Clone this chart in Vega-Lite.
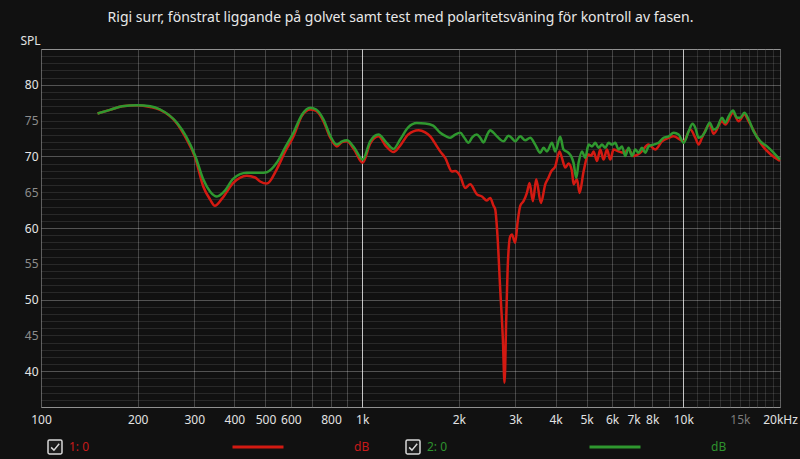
{
  "$schema": "https://vega.github.io/schema/vega-lite/v6.json",
  "width": 739,
  "height": 358,
  "autosize": {"type": "none"},
  "padding": {"left": 41, "top": 49, "right": 20, "bottom": 52},
  "background": "#111111",
  "title": {
    "text": "Rigi surr, fönstrat liggande på golvet samt test med polaritetsväning för kontroll av fasen.",
    "color": "#e8e8e8",
    "fontSize": 14,
    "fontWeight": "normal",
    "font": "Noto Sans",
    "anchor": "middle",
    "dx": -10,
    "offset": 9
  },
  "data": {
    "values": [
      {"f": 150, "db": 76.0, "s": "1: 0"},
      {"f": 164, "db": 76.5, "s": "1: 0"},
      {"f": 179, "db": 77.0, "s": "1: 0"},
      {"f": 199, "db": 77.15, "s": "1: 0"},
      {"f": 219, "db": 76.9, "s": "1: 0"},
      {"f": 235, "db": 76.5, "s": "1: 0"},
      {"f": 265, "db": 74.6, "s": "1: 0"},
      {"f": 283, "db": 72.5, "s": "1: 0"},
      {"f": 302, "db": 69.85, "s": "1: 0"},
      {"f": 320, "db": 65.8, "s": "1: 0"},
      {"f": 336, "db": 64.0, "s": "1: 0"},
      {"f": 348, "db": 63.1, "s": "1: 0"},
      {"f": 366, "db": 64.1, "s": "1: 0"},
      {"f": 397, "db": 66.3, "s": "1: 0"},
      {"f": 437, "db": 67.3, "s": "1: 0"},
      {"f": 464, "db": 67.05, "s": "1: 0"},
      {"f": 481, "db": 66.5, "s": "1: 0"},
      {"f": 505, "db": 66.2, "s": "1: 0"},
      {"f": 542, "db": 68.2, "s": "1: 0"},
      {"f": 576, "db": 70.7, "s": "1: 0"},
      {"f": 611, "db": 72.8, "s": "1: 0"},
      {"f": 650, "db": 75.7, "s": "1: 0"},
      {"f": 689, "db": 76.55, "s": "1: 0"},
      {"f": 719, "db": 76.35, "s": "1: 0"},
      {"f": 758, "db": 74.9, "s": "1: 0"},
      {"f": 795, "db": 72.65, "s": "1: 0"},
      {"f": 834, "db": 71.4, "s": "1: 0"},
      {"f": 866, "db": 72.0, "s": "1: 0"},
      {"f": 896, "db": 72.1, "s": "1: 0"},
      {"f": 944, "db": 70.95, "s": "1: 0"},
      {"f": 1004, "db": 69.1, "s": "1: 0"},
      {"f": 1059, "db": 71.8, "s": "1: 0"},
      {"f": 1124, "db": 72.8, "s": "1: 0"},
      {"f": 1188, "db": 71.4, "s": "1: 0"},
      {"f": 1252, "db": 70.6, "s": "1: 0"},
      {"f": 1313, "db": 71.5, "s": "1: 0"},
      {"f": 1391, "db": 73.05, "s": "1: 0"},
      {"f": 1498, "db": 73.65, "s": "1: 0"},
      {"f": 1571, "db": 73.35, "s": "1: 0"},
      {"f": 1629, "db": 72.8, "s": "1: 0"},
      {"f": 1709, "db": 71.4, "s": "1: 0"},
      {"f": 1750, "db": 70.7, "s": "1: 0"},
      {"f": 1814, "db": 69.8, "s": "1: 0"},
      {"f": 1903, "db": 67.9, "s": "1: 0"},
      {"f": 1948, "db": 67.95, "s": "1: 0"},
      {"f": 2020, "db": 67.25, "s": "1: 0"},
      {"f": 2093, "db": 65.6, "s": "1: 0"},
      {"f": 2170, "db": 66.1, "s": "1: 0"},
      {"f": 2276, "db": 64.7, "s": "1: 0"},
      {"f": 2360, "db": 64.4, "s": "1: 0"},
      {"f": 2446, "db": 63.85, "s": "1: 0"},
      {"f": 2504, "db": 64.2, "s": "1: 0"},
      {"f": 2564, "db": 63.1, "s": "1: 0"},
      {"f": 2596, "db": 62.6, "s": "1: 0"},
      {"f": 2639, "db": 58.85, "s": "1: 0"},
      {"f": 2691, "db": 51.4, "s": "1: 0"},
      {"f": 2743, "db": 44.4, "s": "1: 0"},
      {"f": 2775, "db": 38.4, "s": "1: 0"},
      {"f": 2809, "db": 47.2, "s": "1: 0"},
      {"f": 2843, "db": 55.15, "s": "1: 0"},
      {"f": 2891, "db": 58.85, "s": "1: 0"},
      {"f": 2926, "db": 59.1, "s": "1: 0"},
      {"f": 2996, "db": 57.95, "s": "1: 0"},
      {"f": 3046, "db": 60.7, "s": "1: 0"},
      {"f": 3106, "db": 63.1, "s": "1: 0"},
      {"f": 3180, "db": 63.75, "s": "1: 0"},
      {"f": 3258, "db": 64.9, "s": "1: 0"},
      {"f": 3320, "db": 66.3, "s": "1: 0"},
      {"f": 3402, "db": 63.75, "s": "1: 0"},
      {"f": 3483, "db": 66.8, "s": "1: 0"},
      {"f": 3603, "db": 63.5, "s": "1: 0"},
      {"f": 3716, "db": 66.1, "s": "1: 0"},
      {"f": 3805, "db": 67.05, "s": "1: 0"},
      {"f": 3879, "db": 67.9, "s": "1: 0"},
      {"f": 3992, "db": 68.6, "s": "1: 0"},
      {"f": 4117, "db": 70.7, "s": "1: 0"},
      {"f": 4188, "db": 69.8, "s": "1: 0"},
      {"f": 4289, "db": 68.45, "s": "1: 0"},
      {"f": 4391, "db": 69.0, "s": "1: 0"},
      {"f": 4500, "db": 67.95, "s": "1: 0"},
      {"f": 4552, "db": 66.1, "s": "1: 0"},
      {"f": 4665, "db": 66.8, "s": "1: 0"},
      {"f": 4753, "db": 64.9, "s": "1: 0"},
      {"f": 4891, "db": 67.9, "s": "1: 0"},
      {"f": 5070, "db": 70.25, "s": "1: 0"},
      {"f": 5169, "db": 70.1, "s": "1: 0"},
      {"f": 5255, "db": 70.7, "s": "1: 0"},
      {"f": 5384, "db": 69.35, "s": "1: 0"},
      {"f": 5513, "db": 70.95, "s": "1: 0"},
      {"f": 5645, "db": 69.55, "s": "1: 0"},
      {"f": 5784, "db": 70.95, "s": "1: 0"},
      {"f": 5923, "db": 69.55, "s": "1: 0"},
      {"f": 6065, "db": 70.95, "s": "1: 0"},
      {"f": 6286, "db": 70.7, "s": "1: 0"},
      {"f": 6516, "db": 70.5, "s": "1: 0"},
      {"f": 6753, "db": 70.95, "s": "1: 0"},
      {"f": 7000, "db": 70.05, "s": "1: 0"},
      {"f": 7344, "db": 70.5, "s": "1: 0"},
      {"f": 7795, "db": 71.65, "s": "1: 0"},
      {"f": 8178, "db": 70.95, "s": "1: 0"},
      {"f": 8581, "db": 72.1, "s": "1: 0"},
      {"f": 9003, "db": 72.6, "s": "1: 0"},
      {"f": 9328, "db": 72.8, "s": "1: 0"},
      {"f": 10021, "db": 72.1, "s": "1: 0"},
      {"f": 10515, "db": 73.75, "s": "1: 0"},
      {"f": 10899, "db": 72.6, "s": "1: 0"},
      {"f": 11160, "db": 71.65, "s": "1: 0"},
      {"f": 11435, "db": 72.6, "s": "1: 0"},
      {"f": 12076, "db": 74.45, "s": "1: 0"},
      {"f": 12427, "db": 73.15, "s": "1: 0"},
      {"f": 13199, "db": 74.9, "s": "1: 0"},
      {"f": 13515, "db": 74.45, "s": "1: 0"},
      {"f": 14283, "db": 76.1, "s": "1: 0"},
      {"f": 14869, "db": 74.9, "s": "1: 0"},
      {"f": 15489, "db": 75.85, "s": "1: 0"},
      {"f": 15975, "db": 74.9, "s": "1: 0"},
      {"f": 17373, "db": 71.9, "s": "1: 0"},
      {"f": 20000, "db": 69.35, "s": "1: 0"},

      {"f": 150, "db": 76.0, "s": "2: 0"},
      {"f": 164, "db": 76.5, "s": "2: 0"},
      {"f": 179, "db": 77.0, "s": "2: 0"},
      {"f": 199, "db": 77.15, "s": "2: 0"},
      {"f": 219, "db": 77.0, "s": "2: 0"},
      {"f": 235, "db": 76.55, "s": "2: 0"},
      {"f": 265, "db": 74.7, "s": "2: 0"},
      {"f": 283, "db": 72.8, "s": "2: 0"},
      {"f": 302, "db": 70.1, "s": "2: 0"},
      {"f": 320, "db": 66.8, "s": "2: 0"},
      {"f": 336, "db": 65.1, "s": "2: 0"},
      {"f": 353, "db": 64.4, "s": "2: 0"},
      {"f": 372, "db": 65.1, "s": "2: 0"},
      {"f": 397, "db": 66.9, "s": "2: 0"},
      {"f": 437, "db": 67.7, "s": "2: 0"},
      {"f": 481, "db": 67.7, "s": "2: 0"},
      {"f": 505, "db": 67.8, "s": "2: 0"},
      {"f": 542, "db": 69.1, "s": "2: 0"},
      {"f": 576, "db": 71.25, "s": "2: 0"},
      {"f": 611, "db": 73.3, "s": "2: 0"},
      {"f": 650, "db": 75.85, "s": "2: 0"},
      {"f": 689, "db": 76.8, "s": "2: 0"},
      {"f": 719, "db": 76.55, "s": "2: 0"},
      {"f": 758, "db": 75.15, "s": "2: 0"},
      {"f": 795, "db": 72.9, "s": "2: 0"},
      {"f": 834, "db": 71.65, "s": "2: 0"},
      {"f": 866, "db": 72.1, "s": "2: 0"},
      {"f": 896, "db": 72.25, "s": "2: 0"},
      {"f": 944, "db": 71.25, "s": "2: 0"},
      {"f": 1004, "db": 69.55, "s": "2: 0"},
      {"f": 1059, "db": 72.1, "s": "2: 0"},
      {"f": 1124, "db": 73.05, "s": "2: 0"},
      {"f": 1188, "db": 71.95, "s": "2: 0"},
      {"f": 1252, "db": 71.05, "s": "2: 0"},
      {"f": 1313, "db": 72.35, "s": "2: 0"},
      {"f": 1391, "db": 74.05, "s": "2: 0"},
      {"f": 1480, "db": 74.65, "s": "2: 0"},
      {"f": 1571, "db": 74.6, "s": "2: 0"},
      {"f": 1664, "db": 74.3, "s": "2: 0"},
      {"f": 1750, "db": 73.3, "s": "2: 0"},
      {"f": 1827, "db": 72.8, "s": "2: 0"},
      {"f": 1880, "db": 72.6, "s": "2: 0"},
      {"f": 1948, "db": 73.05, "s": "2: 0"},
      {"f": 2020, "db": 73.3, "s": "2: 0"},
      {"f": 2078, "db": 72.65, "s": "2: 0"},
      {"f": 2143, "db": 71.9, "s": "2: 0"},
      {"f": 2201, "db": 72.65, "s": "2: 0"},
      {"f": 2276, "db": 73.05, "s": "2: 0"},
      {"f": 2331, "db": 72.6, "s": "2: 0"},
      {"f": 2387, "db": 71.95, "s": "2: 0"},
      {"f": 2451, "db": 73.05, "s": "2: 0"},
      {"f": 2504, "db": 73.65, "s": "2: 0"},
      {"f": 2559, "db": 73.35, "s": "2: 0"},
      {"f": 2628, "db": 72.8, "s": "2: 0"},
      {"f": 2691, "db": 72.35, "s": "2: 0"},
      {"f": 2755, "db": 72.1, "s": "2: 0"},
      {"f": 2855, "db": 72.9, "s": "2: 0"},
      {"f": 2932, "db": 72.5, "s": "2: 0"},
      {"f": 2996, "db": 72.1, "s": "2: 0"},
      {"f": 3106, "db": 72.8, "s": "2: 0"},
      {"f": 3219, "db": 72.25, "s": "2: 0"},
      {"f": 3337, "db": 72.6, "s": "2: 0"},
      {"f": 3458, "db": 71.65, "s": "2: 0"},
      {"f": 3585, "db": 70.5, "s": "2: 0"},
      {"f": 3671, "db": 71.2, "s": "2: 0"},
      {"f": 3761, "db": 70.7, "s": "2: 0"},
      {"f": 3899, "db": 71.9, "s": "2: 0"},
      {"f": 3992, "db": 70.7, "s": "2: 0"},
      {"f": 4138, "db": 72.75, "s": "2: 0"},
      {"f": 4237, "db": 70.95, "s": "2: 0"},
      {"f": 4391, "db": 70.5, "s": "2: 0"},
      {"f": 4477, "db": 70.0, "s": "2: 0"},
      {"f": 4552, "db": 69.1, "s": "2: 0"},
      {"f": 4642, "db": 67.0, "s": "2: 0"},
      {"f": 4719, "db": 69.1, "s": "2: 0"},
      {"f": 4835, "db": 70.7, "s": "2: 0"},
      {"f": 4951, "db": 69.8, "s": "2: 0"},
      {"f": 5070, "db": 71.65, "s": "2: 0"},
      {"f": 5195, "db": 71.4, "s": "2: 0"},
      {"f": 5319, "db": 71.9, "s": "2: 0"},
      {"f": 5446, "db": 71.2, "s": "2: 0"},
      {"f": 5581, "db": 71.65, "s": "2: 0"},
      {"f": 5714, "db": 71.2, "s": "2: 0"},
      {"f": 5851, "db": 71.9, "s": "2: 0"},
      {"f": 5995, "db": 71.65, "s": "2: 0"},
      {"f": 6139, "db": 71.9, "s": "2: 0"},
      {"f": 6286, "db": 70.95, "s": "2: 0"},
      {"f": 6441, "db": 71.4, "s": "2: 0"},
      {"f": 6595, "db": 70.05, "s": "2: 0"},
      {"f": 6753, "db": 71.2, "s": "2: 0"},
      {"f": 6920, "db": 70.05, "s": "2: 0"},
      {"f": 7086, "db": 70.95, "s": "2: 0"},
      {"f": 7255, "db": 70.5, "s": "2: 0"},
      {"f": 7434, "db": 71.2, "s": "2: 0"},
      {"f": 7612, "db": 70.5, "s": "2: 0"},
      {"f": 7795, "db": 71.4, "s": "2: 0"},
      {"f": 8079, "db": 71.65, "s": "2: 0"},
      {"f": 8374, "db": 71.9, "s": "2: 0"},
      {"f": 8680, "db": 72.6, "s": "2: 0"},
      {"f": 9003, "db": 72.8, "s": "2: 0"},
      {"f": 9328, "db": 73.3, "s": "2: 0"},
      {"f": 9669, "db": 73.05, "s": "2: 0"},
      {"f": 10021, "db": 71.9, "s": "2: 0"},
      {"f": 10387, "db": 73.5, "s": "2: 0"},
      {"f": 10690, "db": 74.55, "s": "2: 0"},
      {"f": 10899, "db": 74.0, "s": "2: 0"},
      {"f": 11160, "db": 72.6, "s": "2: 0"},
      {"f": 11435, "db": 72.8, "s": "2: 0"},
      {"f": 11709, "db": 73.5, "s": "2: 0"},
      {"f": 12076, "db": 74.7, "s": "2: 0"},
      {"f": 12427, "db": 73.75, "s": "2: 0"},
      {"f": 12734, "db": 74.0, "s": "2: 0"},
      {"f": 13199, "db": 75.4, "s": "2: 0"},
      {"f": 13515, "db": 74.7, "s": "2: 0"},
      {"f": 13839, "db": 75.6, "s": "2: 0"},
      {"f": 14283, "db": 76.4, "s": "2: 0"},
      {"f": 14700, "db": 75.4, "s": "2: 0"},
      {"f": 15051, "db": 75.4, "s": "2: 0"},
      {"f": 15489, "db": 76.1, "s": "2: 0"},
      {"f": 15975, "db": 75.15, "s": "2: 0"},
      {"f": 16558, "db": 73.5, "s": "2: 0"},
      {"f": 17373, "db": 72.1, "s": "2: 0"},
      {"f": 18227, "db": 71.4, "s": "2: 0"},
      {"f": 19110, "db": 70.5, "s": "2: 0"},
      {"f": 20000, "db": 69.55, "s": "2: 0"}
    ]
  },
  "encoding": {
    "x": {
      "field": "f",
      "type": "quantitative",
      "scale": {"type": "log", "domain": [100, 20000]},
      "axis": {
        "title": null,
        "values": [100, 200, 300, 400, 500, 600, 700, 800, 900, 1000, 2000, 3000, 4000, 5000, 6000, 7000, 8000, 9000, 10000, 11000, 12000, 13000, 14000, 15000, 16000, 17000, 18000, 19000, 20000],
        "labelExpr": "datum.value == 20000 ? '20kHz' : (datum.value == 700 || datum.value == 900 || datum.value == 9000 || (datum.value > 10000 && datum.value != 15000)) ? '' : datum.value >= 1000 ? (datum.value / 1000) + 'k' : '' + datum.value",
        "labelColor": {"condition": {"test": "datum.value == 15000", "value": "#7c7c7c"}, "value": "#e2e2e2"},
        "gridColor": {
          "condition": [
            {"test": "datum.value == 1000 || datum.value == 10000", "value": "#c4c4c4"},
            {"test": "datum.value == 100 || datum.value == 20000", "value": "#5e5e5e"},
            {"test": "datum.value > 10000", "value": "#2e2e2e"}
          ],
          "value": "#444444"
        },
        "grid": true,
        "domain": false,
        "ticks": false,
        "labelFontSize": 12,
        "labelBaseline": "middle",
        "labelPadding": 12,
        "labelFlush": false,
        "labelOverlap": false,
        "labelBound": false
      }
    },
    "y": {
      "field": "db",
      "type": "quantitative",
      "scale": {"domain": [35, 85]},
      "axis": {
        "values": [35, 36, 37, 38, 39, 40, 41, 42, 43, 44, 45, 46, 47, 48, 49, 50, 51, 52, 53, 54, 55, 56, 57, 58, 59, 60, 61, 62, 63, 64, 65, 66, 67, 68, 69, 70, 71, 72, 73, 74, 75, 76, 77, 78, 79, 80, 81, 82, 83, 84, 85],
        "labelExpr": "(datum.value % 5 == 0 && datum.value >= 40 && datum.value <= 80) ? '' + datum.value : ''",
        "labelColor": {"condition": {"test": "datum.value % 10 == 0", "value": "#e6e6e6"}, "value": "#8c8c8c"},
        "gridColor": {
          "condition": [
            {"test": "datum.value == 35 || datum.value == 85", "value": "rgba(255,255,255,0.32)"},
            {"test": "datum.value % 10 == 0", "value": "rgba(255,255,255,0.28)"}
          ],
          "value": "rgba(255,255,255,0.1)"
        },
        "grid": true,
        "domain": false,
        "ticks": false,
        "labelPadding": 3,
        "labelFontSize": 12,
        "labelOverlap": false,
        "labelFlush": false,
        "title": "SPL",
        "titleAngle": 0,
        "titleAlign": "left",
        "titleBaseline": "middle",
        "titleX": -21,
        "titleY": -9,
        "titleColor": "#e2e2e2",
        "titleFontSize": 12,
        "titleFontWeight": "normal"
      }
    },
    "color": {
      "field": "s",
      "type": "nominal",
      "scale": {"domain": ["1: 0", "2: 0"], "range": ["#d31a12", "#2f982f"]},
      "legend": {
        "orient": "none",
        "legendX": 190,
        "legendY": 371,
        "direction": "horizontal",
        "columns": 2,
        "title": null,
        "padding": 0,
        "symbolType": "stroke",
        "symbolSize": 2601,
        "symbolStrokeWidth": 3,
        "labelExpr": "'dB'",
        "labelOffset": 69,
        "columnPadding": 213,
        "labelFontSize": 12,
        "labelColor": {"expr": "datum.value == '1: 0' ? '#c81a1a' : '#2e932e'"}
      }
    },
    "opacity": {
      "field": "s",
      "type": "ordinal",
      "scale": {"range": [1, 1]},
      "legend": {
        "orient": "none",
        "legendX": 6,
        "legendY": 390,
        "direction": "horizontal",
        "columns": 2,
        "title": null,
        "padding": 0,
        "symbolType": "M-0.8,-1H0.8Q1,-1 1,-0.8V0.8Q1,1 0.8,1H-0.8Q-1,1 -1,0.8V-0.8Q-1,-1 -0.8,-1Z M-0.55,0.05L-0.15,0.45L0.6,-0.45",
        "symbolSize": 196,
        "symbolStrokeWidth": 1.5,
        "symbolStrokeColor": "#d8d8d8",
        "symbolFillColor": "#1c1c1c",
        "labelOffset": 6,
        "columnPadding": 313,
        "labelFontSize": 12,
        "labelColor": {"expr": "datum.value == '1: 0' ? '#c81a1a' : '#2e932e'"}
      }
    }
  },
  "layer": [
    {
      "transform": [{"filter": "datum.s == '1: 0'"}],
      "mark": {"type": "line", "strokeWidth": 2.5, "interpolate": "monotone"}
    },
    {
      "transform": [{"filter": "datum.s == '2: 0'"}],
      "mark": {"type": "line", "strokeWidth": 2.5, "interpolate": "monotone"}
    }
  ],
  "config": {
    "font": "Noto Sans",
    "view": {"stroke": "#5e5e5e"}
  }
}
